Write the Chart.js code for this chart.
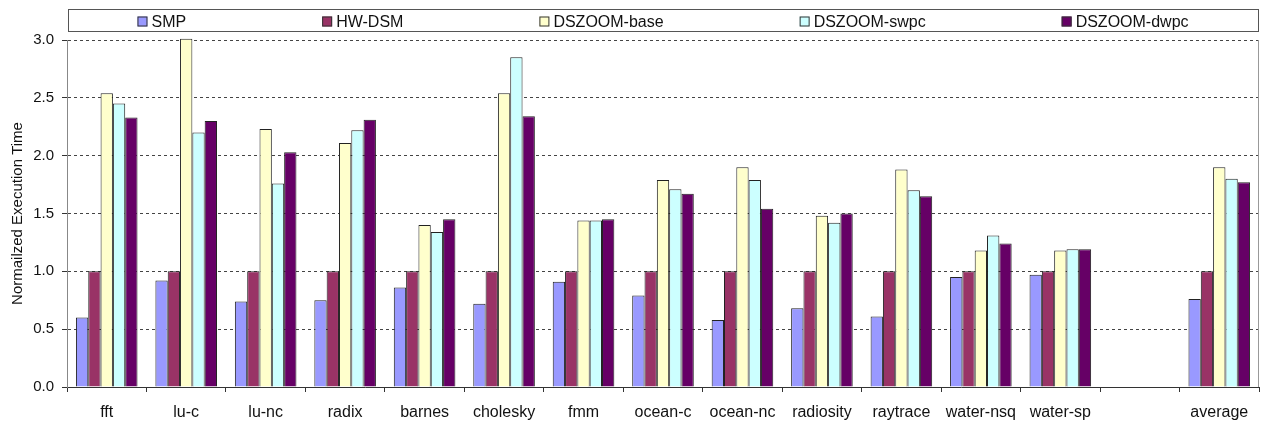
<!DOCTYPE html>
<html>
<head>
<meta charset="utf-8">
<script src="https://cdn.jsdelivr.net/npm/chart.js@4"></script>
<style>
  html, body { margin: 0; padding: 0; background: #fff; }
  #wrap { width: 1262px; height: 421px; }
</style>
</head>
<body>
<div id="wrap"><canvas id="chart"></canvas></div>
<script>
const labels = ['fft', 'lu-c', 'lu-nc', 'radix', 'barnes', 'cholesky', 'fmm', 'ocean-c', 'ocean-nc', 'radiosity', 'raytrace', 'water-nsq', 'water-sp', '', 'average'];

const smp        = [0.60, 0.92, 0.74, 0.75, 0.86, 0.72, 0.91, 0.79, 0.58, 0.68, 0.61, 0.95, 0.97, null, 0.76];
const hwDsm      = [1.00, 1.00, 1.00, 1.00, 1.00, 1.00, 1.00, 1.00, 1.00, 1.00, 1.00, 1.00, 1.00, null, 1.00];
const dszoomBase = [2.54, 3.01, 2.23, 2.11, 1.40, 2.54, 1.44, 1.79, 1.90, 1.48, 1.88, 1.18, 1.18, null, 1.90];
const dszoomSwpc = [2.45, 2.20, 1.76, 2.22, 1.34, 2.85, 1.44, 1.71, 1.79, 1.42, 1.70, 1.31, 1.19, null, 1.80];
const dszoomDwpc = [2.33, 2.30, 2.03, 2.31, 1.45, 2.34, 1.45, 1.67, 1.54, 1.50, 1.65, 1.24, 1.19, null, 1.77];

const yTicks = [0, 0.5, 1.0, 1.5, 2.0, 2.5, 3.0];

const FONT = 'Liberation Sans, Arial, sans-serif';

// legend drawn in a box over the plot area, like the original
const boxLegend = {
  id: 'boxLegend',
  afterDraw(chart) {
    const ctx = chart.ctx;
    const area = chart.chartArea;
    const sets = chart.data.datasets;
    ctx.save();
    ctx.font = '16px ' + FONT;
    const gap = 136;
    const widths = sets.map(d => 14 + ctx.measureText(d.label).width);
    const total = widths.reduce((a, b) => a + b, 0) + gap * (sets.length - 1);
    let x = (area.left + area.right) / 2 - total / 2;
    const cy = 21.5;

    ctx.strokeStyle = '#555';
    ctx.lineWidth = 1;
    ctx.strokeRect(area.left + 1.5, 9.5, area.right - area.left - 2, 22);

    sets.forEach((d, i) => {
      ctx.fillStyle = d.backgroundColor;
      ctx.fillRect(x, cy - 5, 10, 10);
      ctx.strokeStyle = '#333';
      ctx.strokeRect(x + 0.5, cy - 4.5, 9, 9);
      ctx.fillStyle = '#111';
      ctx.textBaseline = 'middle';
      ctx.textAlign = 'left';
      ctx.fillText(d.label, x + 14, cy + 1);
      x += widths[i] + gap;
    });

    // right edge of plot frame
    ctx.strokeStyle = '#999';
    ctx.beginPath();
    ctx.moveTo(area.right - 0.5, area.top);
    ctx.lineTo(area.right - 0.5, area.bottom);
    ctx.stroke();
    ctx.restore();
  }
};

const bar = (label, data, color) => ({
  label: label,
  data: data,
  backgroundColor: color,
  borderColor: '#222',
  borderWidth: 1,
  borderSkipped: 'bottom',
  categoryPercentage: 0.775,
  barPercentage: 1.0,
  clip: false,
});

new Chart(document.getElementById('chart'), {
  type: 'bar',
  data: {
    labels: labels,
    datasets: [
      bar('SMP', smp, '#9999ff'),
      bar('HW-DSM', hwDsm, '#993366'),
      bar('DSZOOM-base', dszoomBase, '#ffffcc'),
      bar('DSZOOM-swpc', dszoomSwpc, '#ccffff'),
      bar('DSZOOM-dwpc', dszoomDwpc, '#660066'),
    ],
  },
  options: {
    responsive: true,
    maintainAspectRatio: false,
    animation: false,
    layout: { padding: { top: 40, right: 3, left: 0, bottom: 0 } },
    plugins: {
      legend: { display: false },
      tooltip: { enabled: false },
    },
    scales: {
      x: {
        afterFit: (s) => { s.height = 34; },
        grid: {
          offset: true,
          drawOnChartArea: false,
          drawTicks: true,
          tickLength: 5,
          color: '#333',
        },
        border: { display: true, color: '#333', width: 1 },
        ticks: {
          font: { family: FONT, size: 16 },
          color: '#111',
          padding: 11,
          autoSkip: false,
          maxRotation: 0,
        },
      },
      y: {
        min: 0,
        max: 3,
        afterFit: (s) => { s.width = 67; },
        afterBuildTicks: (s) => { s.ticks = yTicks.map(v => ({ value: v })); },
        grid: {
          color: '#444',
          lineWidth: 1,
          drawTicks: true,
          tickLength: 5,
          tickColor: '#333',
          tickBorderDash: [],
        },
        border: { display: true, color: '#888', width: 1, dash: [3, 3] },
        ticks: {
          font: { family: FONT, size: 15 },
          color: '#111',
          padding: 8,
          callback: (v) => Number(v).toFixed(1),
        },
        title: {
          display: true,
          text: 'Normailzed Execution Time',
          font: { family: FONT, size: 15 },
          color: '#111',
          padding: { top: 9, bottom: 0 },
        },
      },
    },
  },
  plugins: [boxLegend],
});
</script>
</body>
</html>
